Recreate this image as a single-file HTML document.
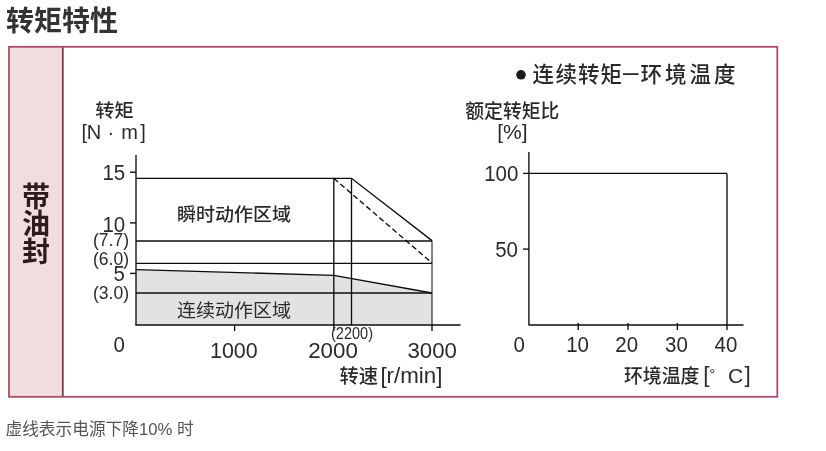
<!DOCTYPE html>
<html lang="zh-CN">
<head>
<meta charset="utf-8">
<title>转矩特性</title>
<style>
html,body{margin:0;padding:0;background:#fff;}
body{width:826px;height:451px;position:relative;overflow:hidden;font-family:"Liberation Sans","Noto Sans CJK SC",sans-serif;}
h2{position:absolute;left:6px;top:2px;margin:0;font-size:28px;line-height:40px;font-weight:bold;color:#333;white-space:nowrap;}
.box{position:absolute;left:10px;top:48px;width:767px;height:348px;}
.side{position:absolute;left:0;top:0;width:52px;height:348px;}
.side span{position:absolute;left:0;width:52px;text-align:center;font-weight:bold;font-size:28px;line-height:28px;color:#2e1c1c;}
svg{position:absolute;left:0;top:0;filter:blur(0.3px);}
p.note{position:absolute;left:5.5px;top:419px;margin:0;font-size:16.7px;line-height:22px;color:#555;white-space:nowrap;}
text{font-family:"Liberation Sans","Noto Sans CJK SC",sans-serif;fill:#2a2a2a;}
</style>
</head>
<body>
<h2>转矩特性</h2>
<svg width="826" height="451" viewBox="0 0 826 451">
  <rect x="9" y="47" width="54" height="350" fill="#f0dede"/>
  <line x1="62.800" y1="47" x2="62.800" y2="397" stroke="#7e3a50" stroke-width="1.800"/>
  <rect x="9" y="46.800" width="768.300" height="350" fill="none" stroke="#ab4c68" stroke-width="1.800"/>
  <!-- left chart -->
  <polygon points="136,269.6 333.8,275.4 432,293 432,325 136,325" fill="#e2e2e2"/>
  <g stroke="#0c0c0c" stroke-width="1.35" fill="none">
    <line x1="136" y1="155" x2="136" y2="325"/>
    <line x1="135.4" y1="325" x2="460.5" y2="325"/>
    <line x1="130" y1="172.2" x2="136" y2="172.2"/>
    <line x1="130" y1="222.9" x2="136" y2="222.9"/>
    <line x1="130" y1="273.4" x2="136" y2="273.4"/>
    <line x1="234.6" y1="325" x2="234.6" y2="331"/>
    <line x1="432" y1="325" x2="432" y2="331"/>
    <polyline points="136,178.3 351.5,178.3 432,240.6"/>
    <line x1="333.8" y1="178.3" x2="432" y2="263" stroke-dasharray="5.5 3.1"/>
    <line x1="136" y1="241" x2="432" y2="241"/>
    <line x1="136" y1="263.3" x2="432" y2="263.3"/>
    <line x1="136" y1="293" x2="432" y2="293"/>
    <polyline points="136,269.6 333.8,275.4 432,293"/>
    <line x1="333.8" y1="178.3" x2="333.8" y2="331"/>
    <line x1="351.5" y1="178.3" x2="351.5" y2="325"/>
    <line x1="432" y1="240.6" x2="432" y2="325" stroke-width="1"/>
  </g>
  <text x="95.200" y="116.800" font-size="18.500" font-weight="500" textLength="38.500" lengthAdjust="spacingAndGlyphs">转矩</text>
  <text x="81.500 86.800 107.500 121.300 140.300" y="138.500" font-size="20">[N·m]</text>
  <text transform="translate(125.2 179.5) scale(0.93 1)" font-size="22" text-anchor="end">15</text>
  <text transform="translate(125.2 231.7) scale(0.93 1)" font-size="22" text-anchor="end">10</text>
  <text transform="translate(125.0 281.0) scale(0.93 1)" font-size="22" text-anchor="end">5</text>
  <text x="93" y="246" font-size="17.500">(7.7)</text>
  <text x="93" y="264.700" font-size="17.500">(6.0)</text>
  <text x="93" y="299.200" font-size="17.500">(3.0)</text>
  <text x="177" y="221.300" font-size="18" font-weight="500" textLength="114" lengthAdjust="spacingAndGlyphs">瞬时动作区域</text>
  <text x="177" y="316.500" font-size="18" textLength="114" lengthAdjust="spacingAndGlyphs" fill="#505050">连续动作区域</text>
  <text transform="translate(125.0 351.7) scale(0.93 1)" font-size="22" text-anchor="end">0</text>
  <text transform="translate(233.8 358) scale(0.975 1)" font-size="22" text-anchor="middle">1000</text>
  <text transform="translate(333.0 358) scale(1.015 1)" font-size="22" text-anchor="middle">2000</text>
  <text transform="translate(432.2 358) scale(1.01 1)" font-size="22" text-anchor="middle">3000</text>
  <text x="331" y="338.500" font-size="17" textLength="42" lengthAdjust="spacingAndGlyphs" fill="#444">(2200)</text>
  <text x="339.500" y="382.800" font-size="19.500" font-weight="500" textLength="38.500" lengthAdjust="spacingAndGlyphs">转速</text>
  <text x="380.400" y="383" font-size="21.500" textLength="62" lengthAdjust="spacingAndGlyphs">[r/min]</text>
  <!-- right chart -->
  <g stroke="#0c0c0c" stroke-width="1.35" fill="none">
    <line x1="528.9" y1="152" x2="528.9" y2="325"/>
    <line x1="528.7" y1="325" x2="743.500" y2="325"/>
    <line x1="523" y1="173.4" x2="727" y2="173.4"/>
    <line x1="727" y1="173.4" x2="727" y2="330"/>
    <line x1="523" y1="249.1" x2="528.9" y2="249.1"/>
    <line x1="578.2" y1="323" x2="578.2" y2="330"/>
    <line x1="628" y1="323" x2="628" y2="330"/>
    <line x1="677.4" y1="323" x2="677.4" y2="330"/>
  </g>
  <circle cx="521" cy="74.800" r="4.800" fill="#1a1a1a"/>
  <text y="82.300" font-size="21.500" font-weight="500" x="532.500 555.500 578 600.500 620 640.500 665 689.500 714" fill="#1a1a1a">连续转矩－环境温度</text>
  <text x="465.300" y="117.800" font-size="19.800" font-weight="500" textLength="94" lengthAdjust="spacingAndGlyphs">额定转矩比</text>
  <text x="512.300" y="138.500" font-size="21" text-anchor="middle">[%]</text>
  <text transform="translate(518.3 181.3) scale(0.93 1)" font-size="22" text-anchor="end">100</text>
  <text transform="translate(518.0 256.7) scale(0.93 1)" font-size="22" text-anchor="end">50</text>
  <text transform="translate(525.0 352.0) scale(0.93 1)" font-size="22" text-anchor="end">0</text>
  <text transform="translate(577.6 352.0) scale(0.93 1)" font-size="22" text-anchor="middle">10</text>
  <text transform="translate(626.7 352.0) scale(0.93 1)" font-size="22" text-anchor="middle">20</text>
  <text transform="translate(676.5 352.0) scale(0.93 1)" font-size="22" text-anchor="middle">30</text>
  <text transform="translate(726.0 352.0) scale(0.93 1)" font-size="22" text-anchor="middle">40</text>
  <text x="624" y="382.800" font-size="19.500" font-weight="500" textLength="75.500" lengthAdjust="spacingAndGlyphs">环境温度</text>
  <text x="703.300" y="382" font-size="22.500">[</text><text x="709.300" y="379" font-size="15">°</text><text x="728" y="383" font-size="21">C</text><text x="744.400" y="382" font-size="22.500">]</text>
</svg>
<div class="box">
  <div class="side"><span style="top:135.5px">带</span><span style="top:163px">油</span><span style="top:191px">封</span></div>
</div>
<p class="note">虚线表示电源下降10% 时</p>
</body>
</html>
